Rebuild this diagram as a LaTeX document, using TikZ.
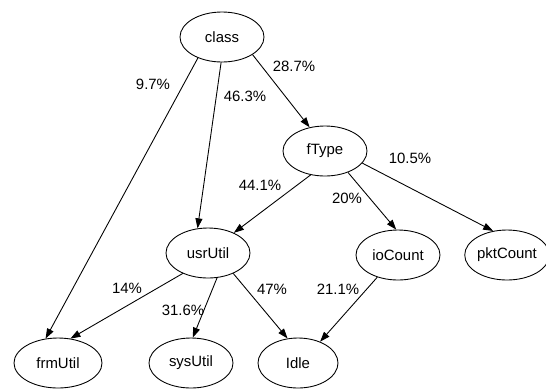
\documentclass[tikz,border=0pt]{standalone}
\usepackage{fontspec}
\setmainfont{Liberation Sans}
\usetikzlibrary{shapes.geometric,arrows.meta}

\begin{document}
\begin{tikzpicture}[
    every node/.style={font=\fontsize{8.5}{10}\selectfont},
    var/.style={draw, ellipse, line width=0.5pt, minimum width=1.68cm, minimum height=1.0cm, inner sep=0pt},
    pct/.style={inner sep=0pt},
    dep/.style={-{Triangle[length=0.2cm, width=0.14cm]}, line width=0.5pt}
]
    \useasboundingbox (0,0) rectangle (10.92,7.78);
    % variables
    \node[var] (class) at (4.44,7.04) {class};
    \node[var] (fType) at (6.50,4.76) {fType};
    \node[var] (usrUtil) at (4.16,2.72) {usrUtil};
    \node[var] (ioCount) at (7.96,2.68) {ioCount};
    \node[var] (pktCount) at (10.14,2.68) {pktCount};
    \node[var, minimum width=1.76cm] (frmUtil) at (1.16,0.52) {frmUtil};
    \node[var] (sysUtil) at (3.82,0.52) {sysUtil};
    \node[var, minimum width=1.6cm] (idle) at (5.96,0.52) {Idle};
    % edges
    \draw[dep] (class.221) -- (frmUtil.117);
    \draw[dep] (class.268) -- (usrUtil.113);
    \draw[dep] (class.330) -- (fType.123);
    \draw[dep] (fType.239) -- (usrUtil.38);
    \draw[dep] (fType.317) -- (ioCount.94);
    \draw[dep] (fType.342) -- (pktCount.120);
    \draw[dep] (usrUtil.219) -- (frmUtil.63);
    \draw[dep] (usrUtil.290) -- (sysUtil.86);
    \draw[dep] (usrUtil.321) -- (idle.113);
    \draw[dep] (ioCount.227) -- (idle.44);
    % percentages
    \node[pct] (pClassFrm) at (3.06,6.10) {9.7\%};
    \node[pct] (pClassUsr) at (4.90,5.86) {46.3\%};
    \node[pct] (pClassType) at (5.88,6.46) {28.7\%};
    \node[pct] (pTypeUsr) at (5.20,4.08) {44.1\%};
    \node[pct] (pTypeIo) at (6.94,3.82) {20\%};
    \node[pct] (pTypePkt) at (8.20,4.62) {10.5\%};
    \node[pct] (pUsrFrm) at (2.54,2.02) {14\%};
    \node[pct] (pUsrSys) at (3.66,1.58) {31.6\%};
    \node[pct] (pUsrIdle) at (5.44,2.00) {47\%};
    \node[pct] (pIoIdle) at (6.76,2.00) {21.1\%};
\end{tikzpicture}
\end{document}
